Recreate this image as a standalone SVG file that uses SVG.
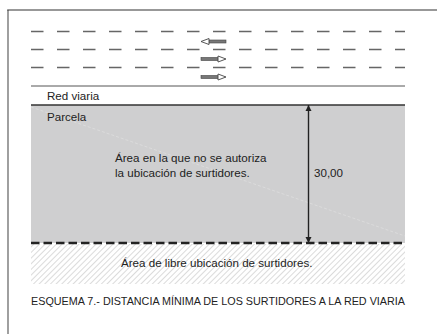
<svg xmlns="http://www.w3.org/2000/svg" width="437" height="334" viewBox="0 0 437 334">
<style>
.t{font-family:"Liberation Sans",Arial,sans-serif;font-size:11.6px;fill:#222}
.lane{stroke:#666;stroke-width:1.3;stroke-dasharray:12.5 13.5}
.shaft{fill:#777;stroke:#444;stroke-width:0.6}
.head{fill:#fff;stroke:#444;stroke-width:0.9}
</style>
<defs>
<pattern id="hatch" patternUnits="userSpaceOnUse" width="4" height="4" patternTransform="rotate(45)">
<line x1="0" y1="0" x2="0" y2="4" stroke="#b8b8b8" stroke-width="1"/>
</pattern>
<marker id="ah" viewBox="0 0 10 10" refX="10" refY="5" markerWidth="6" markerHeight="16" markerUnits="userSpaceOnUse" orient="auto">
<path d="M0,0 L10,5 L0,10 Z" fill="#222"/>
</marker>
</defs>
<rect width="437" height="334" fill="#fff"/>
<g id="frame">
<line x1="8" y1="10" x2="8" y2="334" stroke="#888" stroke-width="1.6"/>
<line x1="7.2" y1="10" x2="437" y2="10" stroke="#333" stroke-width="1.2"/>
</g>
<g id="road">
<line class="lane" x1="31" y1="31.5" x2="405" y2="31.5"/>
<line class="lane" x1="31" y1="49.5" x2="405" y2="49.5"/>
<line class="lane" x1="31" y1="67.5" x2="405" y2="67.5"/>
<line x1="31" y1="86" x2="405" y2="86" stroke="#555" stroke-width="1"/>
<g id="arrow-left">
<rect class="shaft" x="208" y="40" width="18" height="3"/>
<path class="head" d="M201,41.5 L209,38.5 L209,44.5 Z"/>
</g>
<g id="arrow-right-1">
<rect class="shaft" x="201" y="57.5" width="18" height="3"/>
<path class="head" d="M226,59 L218,56 L218,62 Z"/>
</g>
<g id="arrow-right-2">
<rect class="shaft" x="201" y="75.5" width="18" height="3"/>
<path class="head" d="M226,77 L218,74 L218,80 Z"/>
</g>
<text class="t" x="47" y="100">Red viaria</text>
</g>
<g id="parcela">
<rect x="31" y="105" width="374" height="138" fill="#cfcfd0"/>
<line x1="31" y1="107" x2="405" y2="236" stroke="#e2e2e2" stroke-width="0.6" stroke-dasharray="3 2"/>
<line x1="31" y1="105" x2="405" y2="105" stroke="#333" stroke-width="1.6"/>
<text class="t" x="47" y="121">Parcela</text>
<text class="t" x="115" y="162">Área en la que no se autoriza</text>
<text class="t" x="115" y="177">la ubicación de surtidores.</text>
</g>
<g id="libre">
<rect x="31" y="244" width="374" height="40" fill="url(#hatch)"/>
<line x1="31" y1="243" x2="405" y2="243" stroke="#222" stroke-width="2.6" stroke-dasharray="8.5 4"/>
<text class="t" x="121" y="267">Área de libre ubicación de surtidores.</text>
</g>
<g id="dimension">
<line x1="308.5" y1="243" x2="308.5" y2="105" stroke="#222" stroke-width="1.2" marker-end="url(#ah)"/>
<line x1="308.5" y1="105" x2="308.5" y2="243" stroke="#222" stroke-width="1.2" marker-end="url(#ah)"/>
<text class="t" x="314" y="177">30,00</text>
</g>
<text class="t" x="31" y="305" textLength="374" lengthAdjust="spacingAndGlyphs">ESQUEMA 7.- DISTANCIA MÍNIMA DE LOS SURTIDORES A LA RED VIARIA</text>
</svg>
